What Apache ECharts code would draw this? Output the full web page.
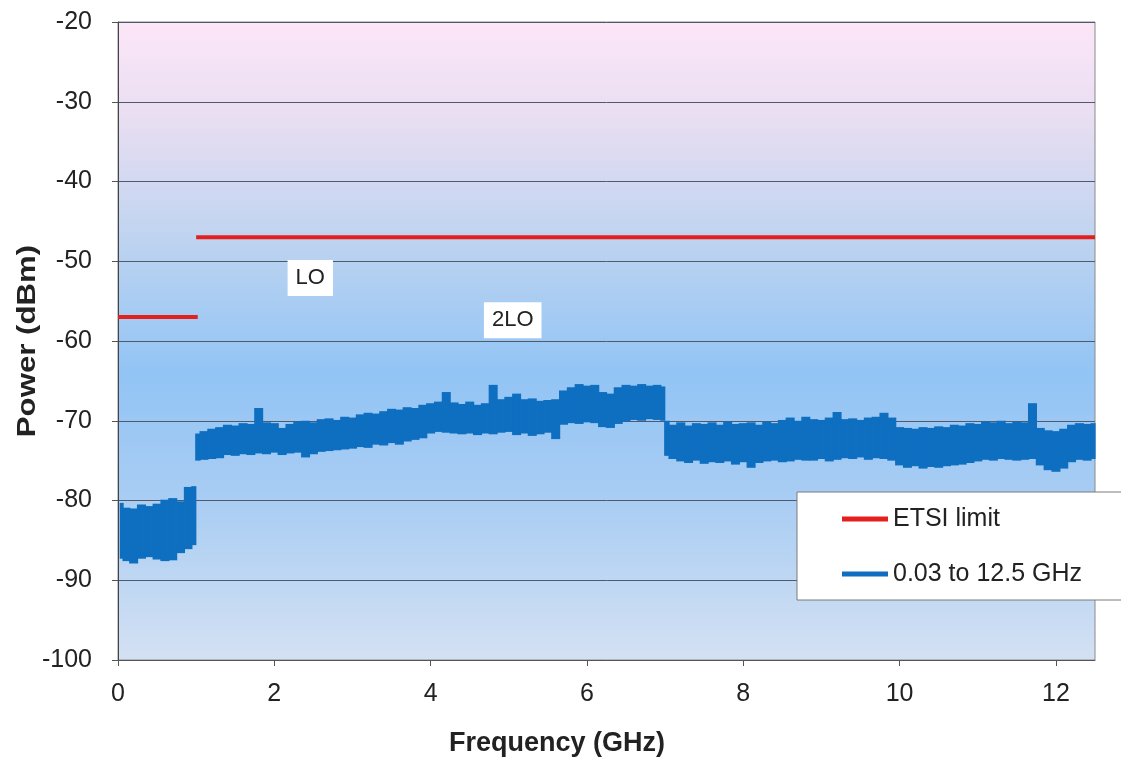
<!DOCTYPE html>
<html>
<head>
<meta charset="utf-8">
<title>Spurious emissions</title>
<script src="https://cdn.jsdelivr.net/npm/echarts/dist/echarts.min.js"></script>
<style>
  html, body { margin: 0; padding: 0; background: #fff; }
  #main { width: 1121px; height: 757px; }
</style>
</head>
<body>
<div id="main"></div>
<script>
var freq = [
    0.03, 0.1, 0.2, 0.3, 0.4, 0.5, 0.6, 0.7, 0.8, 0.9, 0.99,
    1.0, 1.1, 1.2, 1.3, 1.4, 1.5, 1.6, 1.7, 1.8, 1.9,
    2.0, 2.1, 2.2, 2.3, 2.4, 2.5, 2.6, 2.7, 2.8, 2.9,
    3.0, 3.1, 3.2, 3.3, 3.4, 3.5, 3.6, 3.7, 3.8, 3.9,
    4.0, 4.1, 4.2, 4.3, 4.4, 4.5, 4.6, 4.7, 4.8, 4.9,
    5.0, 5.1, 5.2, 5.3, 5.4, 5.5, 5.6, 5.7, 5.8, 5.9,
    6.0, 6.1, 6.2, 6.3, 6.4, 6.5, 6.6, 6.7, 6.8, 6.9, 6.99,
    7.0, 7.1, 7.2, 7.3, 7.4, 7.5, 7.6, 7.7, 7.8, 7.9,
    8.0, 8.1, 8.2, 8.3, 8.4, 8.5, 8.6, 8.7, 8.8, 8.9,
    9.0, 9.1, 9.2, 9.3, 9.4, 9.5, 9.6, 9.7, 9.8, 9.9,
    10.0, 10.1, 10.2, 10.3, 10.4, 10.5, 10.6, 10.7, 10.8, 10.9,
    11.0, 11.1, 11.2, 11.3, 11.4, 11.5, 11.6, 11.7, 11.8, 11.9,
    12.0, 12.1, 12.2, 12.3, 12.4, 12.5
];
var hi = [
    -80.3, -80.9, -81.0, -80.5, -80.7, -80.4, -79.9, -79.7, -80.1, -78.3, -78.2,
    -71.6, -71.3, -71.0, -70.8, -70.5, -70.6, -70.3, -70.4, -68.4, -70.2,
    -70.3, -70.9, -70.4, -70.1, -70.0, -70.2, -69.8, -69.7, -69.9, -69.5,
    -69.6, -69.2, -69.0, -69.1, -68.8, -68.5, -68.6, -68.3, -68.4, -68.0,
    -67.8, -67.6, -66.4, -67.7, -67.9, -67.6, -68.0, -67.8, -65.5, -67.3,
    -67.0, -66.6, -67.3, -67.2, -67.5, -67.4, -67.3, -66.2, -65.8, -65.4,
    -65.6, -65.5, -66.4, -66.6, -65.8, -65.5, -65.6, -65.4, -65.6, -65.5, -65.7,
    -70.0, -70.5, -70.2, -70.6, -70.3, -70.4, -70.2, -70.5, -70.1, -70.4,
    -70.3, -70.2, -70.5, -70.1, -70.3, -69.9, -69.6, -70.0, -69.5, -69.8,
    -69.9, -69.6, -68.9, -69.8, -69.7, -69.9, -69.6, -69.5, -69.0, -69.6,
    -70.8, -70.9, -71.0, -70.8, -70.9, -70.7, -70.8, -70.5, -70.6, -70.3,
    -70.4, -70.1, -70.2, -70.0, -70.3, -70.1, -70.2, -67.8, -70.9, -71.2,
    -71.3, -71.0, -70.5, -70.3, -70.4, -70.3
];
var lo = [
    -87.3, -87.6, -87.9, -87.3, -87.1, -87.4, -87.6, -87.5, -86.6, -86.1, -85.6,
    -75.0, -74.9, -74.8, -74.7, -74.3, -74.4, -74.2, -74.3, -74.1, -74.2,
    -74.0, -74.3, -74.1, -74.0, -74.6, -74.2, -73.9, -73.8, -73.7, -73.6,
    -73.5, -73.3, -73.4, -73.0, -73.1, -72.8, -73.0, -72.6, -72.4, -72.2,
    -71.6, -71.4, -71.5, -71.6, -71.7, -71.6, -71.8, -71.6, -71.7, -71.5,
    -71.4, -71.8, -71.6, -71.9, -71.7, -71.5, -72.3, -70.5, -70.3, -70.4,
    -70.2, -70.3, -70.8, -70.9, -70.4, -70.1, -69.9, -70.0, -69.8, -69.9, -70.0,
    -74.4, -74.8, -75.1, -75.3, -75.0, -75.4, -75.2, -75.3, -75.1, -75.5,
    -75.2, -75.9, -75.3, -75.1, -75.0, -75.2, -75.1, -74.9, -75.0, -75.0,
    -74.8, -75.1, -74.9, -74.7, -74.8, -74.6, -74.9, -74.7, -74.8, -75.0,
    -75.6, -75.9, -75.7, -76.0, -75.8, -75.9, -75.7, -75.6, -75.5, -75.3,
    -75.1, -74.9, -75.0, -74.8, -74.9, -75.0, -74.9, -74.8, -75.6, -76.2,
    -76.4, -76.0, -75.2, -74.9, -75.0, -74.8
];

// ETSI limit mask ('-' breaks the line at 1 GHz)
var limitFreq = [0, 1.02, 1, 1, 12.5];
var limitPow = [-57, -57, '-', -47, -47];

// text annotations
var noteText = ['LO', '2LO'];
var noteFreq = [2.46, 5.05];
var notePow = [-52.1, -57.4];

var xTicks = [0, 2, 4, 6, 8, 10, 12];

window.onload = function(){
    var myChart = echarts.init(document.getElementById('main'));
    var font = "'Liberation Sans', Arial, sans-serif";

    // each sample becomes one column of the noise band: [left edge, right edge, low, high]
    var bandData = [];
    for (var i = 0; i < freq.length; i++) {
        var left = i > 0 ? (freq[i - 1] + freq[i]) / 2 : freq[i];
        var right = i < freq.length - 1 ? (freq[i] + freq[i + 1]) / 2 : freq[i];
        bandData.push([left, right, lo[i], hi[i]]);
    }
    var limitData = [];
    for (var j = 0; j < limitFreq.length; j++) {
        limitData.push([limitFreq[j], limitPow[j]]);
    }
    var notes = [];
    for (var k = 0; k < noteText.length; k++) {
        notes.push({name: noteText[k], coord: [noteFreq[k], notePow[k]]});
    }

    var blue = '#0e6ec0';

    function renderBand(params, api) {
        var p1 = api.coord([api.value(0), api.value(3)]);
        var p2 = api.coord([api.value(1), api.value(2)]);
        return {
            type: 'rect',
            shape: {x: p1[0] - 0.6, y: p1[1], width: p2[0] - p1[0] + 1.2, height: p2[1] - p1[1]},
            style: {fill: blue}
        };
    }

    var option = {
        animation: false,
        grid: {
            left: 118, right: 26, top: 22, bottom: 97,
            containLabel: false,
            outerBoundsMode: 'none',
            show: true,
            borderColor: '#8a8a8a',
            borderWidth: 1,
            backgroundColor: {
                type: 'linear', x: 0, y: 0, x2: 0, y2: 1,
                colorStops: [
                    {offset: 0, color: '#fce6f8'},
                    {offset: 0.15, color: '#e9def2'},
                    {offset: 0.35, color: '#bcd3f0'},
                    {offset: 0.55, color: '#92c4f5'},
                    {offset: 0.75, color: '#a9cdf3'},
                    {offset: 1, color: '#d4e1f3'}
                ]
            }
        },
        legend: {
            data: ['ETSI limit', '0.03 to 12.5 GHz'],
            orient: 'vertical',
            left: 797, top: 492,
            padding: [13, 60, 12, 45],
            itemGap: 27,
            itemWidth: 46,
            itemHeight: 5,
            icon: 'rect',
            selectedMode: false,
            backgroundColor: '#ffffff',
            borderColor: '#7a7a7a',
            borderWidth: 1,
            textStyle: {fontFamily: font, fontSize: 25, color: '#222', lineHeight: 28}
        },
        xAxis: {
            type: 'value',
            min: 0, max: 12.5, interval: 2,
            axisLine: {show: true, lineStyle: {color: '#555', width: 1}},
            axisTick: {show: true, length: 6, customValues: xTicks, lineStyle: {color: '#555'}},
            splitLine: {show: false},
            axisLabel: {
                margin: 22, customValues: xTicks,
                fontFamily: font, fontSize: 25, color: '#222'
            }
        },
        yAxis: {
            type: 'value',
            min: -100, max: -20, interval: 10,
            axisLine: {show: true, lineStyle: {color: '#444', width: 1}},
            axisTick: {show: true, length: 6, lineStyle: {color: '#555'}},
            splitLine: {show: true, lineStyle: {color: '#4f5b6b', width: 1}},
            axisLabel: {margin: 26, fontFamily: font, fontSize: 25, color: '#222'}
        },
        graphic: [
            {
                type: 'text', x: 28, y: 341, rotation: Math.PI / 2, scaleX: 1.2,
                style: {text: 'Power (dBm)', font: 'bold 26px ' + font, fill: '#222',
                        textAlign: 'center', textVerticalAlign: 'middle'}
            },
            {
                type: 'text', x: 557, y: 744,
                style: {text: 'Frequency (GHz)', font: 'bold 27px ' + font, fill: '#222',
                        textAlign: 'center', textVerticalAlign: 'middle'}
            }
        ],
        series: [
            {
                name: 'ETSI limit',
                type: 'line',
                data: limitData,
                symbol: 'none',
                connectNulls: false,
                itemStyle: {color: '#e3201e'},
                lineStyle: {color: '#e3201e', width: 4},
                z: 3,
                markPoint: {
                    symbol: 'rect',
                    symbolSize: 1,
                    itemStyle: {color: 'rgba(0,0,0,0)'},
                    label: {
                        show: true, position: 'inside', formatter: '{b}',
                        fontFamily: font, fontSize: 22, color: '#222',
                        backgroundColor: '#ffffff', padding: [7, 8]
                    },
                    data: notes
                }
            },
            {
                name: '0.03 to 12.5 GHz',
                type: 'custom',
                renderItem: renderBand,
                encode: {x: [0, 1], y: [2, 3]},
                data: bandData,
                itemStyle: {color: blue},
                z: 2
            }
        ]
    };
    myChart.setOption(option);
};
</script>
</body>
</html>
